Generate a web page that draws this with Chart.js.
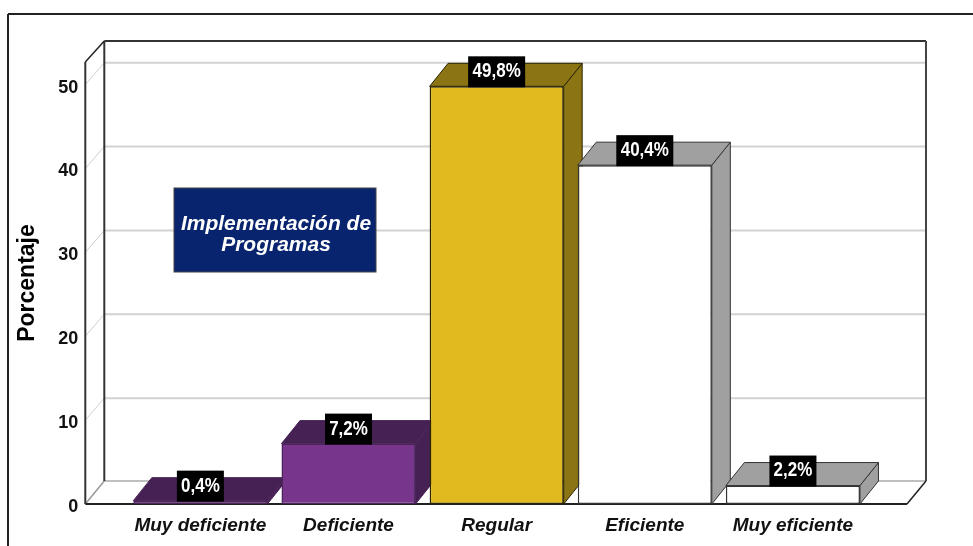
<!DOCTYPE html>
<html>
<head>
<meta charset="utf-8">
<script src="https://cdn.jsdelivr.net/npm/chart.js@4/dist/chart.umd.min.js"></script>
<style>html,body{margin:0;padding:0;background:#fff;overflow:hidden}canvas{display:block}</style>
</head>
<body>
<canvas id="c" width="973" height="546"></canvas>
<script>
const categories = ["Muy deficiente", "Deficiente", "Regular", "Eficiente", "Muy eficiente"];
const percentages = [0.4, 7.2, 49.8, 40.4, 2.2];
const frontColors = ["#77368B", "#77368B", "#E0BA1E", "#FFFFFF", "#FFFFFF"];
const shadeColors = ["#452154", "#452154", "#8B7414", "#A0A0A0", "#A0A0A0"];
const edgeColors = ["#4a2458", "#4a2458", "#2a2400", "#333333", "#333333"];
const yTicks = [0, 10, 20, 30, 40, 50];
const legendLines = ["Implementación de", "Programas"];
const axisTitle = "Porcentaje";

const BAR_DX = 18.5, BAR_DY = 23, WALL_DX = 19, WALL_DY = 22;
const FONT = '"Liberation Sans", Arial, sans-serif';

function line(ctx, x1, y1, x2, y2, color, w) {
  ctx.beginPath(); ctx.moveTo(x1, y1); ctx.lineTo(x2, y2);
  ctx.strokeStyle = color; ctx.lineWidth = w; ctx.stroke();
}
function poly(ctx, pts, fill, edge) {
  ctx.beginPath();
  pts.forEach((p, i) => i ? ctx.lineTo(p[0], p[1]) : ctx.moveTo(p[0], p[1]));
  ctx.closePath();
  ctx.fillStyle = fill; ctx.fill();
  ctx.strokeStyle = edge; ctx.lineWidth = 1; ctx.stroke();
}

const box3d = {
  id: "box3d",
  beforeDatasetsDraw(chart) {
    const ctx = chart.ctx, a = chart.chartArea, y = chart.scales.y;
    const L = a.left - 41, R = a.right + 59;
    ctx.save();
    // outer picture frame
    line(ctx, 8, 14, 973, 14, "#222", 2);
    line(ctx, 8, 14, 8, 546, "#222", 2);
    // grid on wall and side
    yTicks.slice(1).forEach(v => {
      const p = y.getPixelForValue(v);
      line(ctx, L, p, L + WALL_DX, p - WALL_DY, "#cfcfcf", 1);
      line(ctx, L + WALL_DX, p - WALL_DY, R, p - WALL_DY, "#d2d2d2", 2);
    });
    // floor
    line(ctx, L, a.bottom, L + WALL_DX, a.bottom - WALL_DY - 1, "#999", 1.5);
    line(ctx, L + WALL_DX, a.bottom - WALL_DY - 1, R, a.bottom - WALL_DY - 1, "#aaa", 1.5);
    line(ctx, R - WALL_DX, a.bottom, R, a.bottom - WALL_DY - 1, "#222", 1.5);
    line(ctx, L, a.bottom, R - WALL_DX, a.bottom, "#222", 2);
    // walls
    line(ctx, L, a.top, L, a.bottom, "#333", 2);
    line(ctx, L + WALL_DX, a.top - WALL_DY + 1, L + WALL_DX, a.bottom - WALL_DY - 1, "#333", 2);
    line(ctx, L, a.top, L + WALL_DX, a.top - WALL_DY + 1, "#222", 1.5);
    line(ctx, L + WALL_DX, a.top - WALL_DY + 1, R, a.top - WALL_DY + 1, "#333", 2);
    line(ctx, R, a.top - WALL_DY + 1, R, a.bottom - WALL_DY - 1, "#444", 2);
    // bar sides and tops
    const meta = chart.getDatasetMeta(0);
    meta.data.forEach((bar, i) => {
      const hw = bar.width / 2, l = bar.x - hw, r = bar.x + hw, t = bar.y, b = bar.base;
      poly(ctx, [[r, t], [r + BAR_DX, t - BAR_DY], [r + BAR_DX, b - BAR_DY], [r, b]], shadeColors[i], edgeColors[i]);
      poly(ctx, [[l, t], [l + BAR_DX, t - BAR_DY], [r + BAR_DX, t - BAR_DY], [r, t]], shadeColors[i], edgeColors[i]);
    });
    ctx.restore();
  },
  afterDatasetsDraw(chart) {
    const ctx = chart.ctx;
    ctx.save();
    // value labels
    chart.getDatasetMeta(0).data.forEach((bar, i) => {
      const text = percentages[i].toFixed(1).replace(".", ",") + "%";
      const w = text.length > 4 ? 57 : 47;
      ctx.fillStyle = "#000";
      ctx.fillRect(bar.x - w / 2, bar.y - 30, w, 31);
      ctx.save();
      ctx.translate(bar.x, bar.y - 14.5);
      ctx.scale(1, 1.15);
      ctx.font = "bold 17px " + FONT;
      ctx.fillStyle = "#fff";
      ctx.textAlign = "center";
      ctx.textBaseline = "middle";
      ctx.fillText(text, 0, 0);
      ctx.restore();
    });
    // legend box
    ctx.fillStyle = "#08246E";
    ctx.fillRect(174, 188, 202, 84);
    ctx.strokeStyle = "#444";
    ctx.lineWidth = 1;
    ctx.strokeRect(174, 188, 202, 84);
    ctx.font = "italic bold 21px " + FONT;
    ctx.fillStyle = "#fff";
    ctx.textAlign = "center";
    ctx.textBaseline = "middle";
    ctx.fillText(legendLines[0], 276, 224);
    ctx.fillText(legendLines[1], 276, 245);
    ctx.restore();
  }
};

new Chart(document.getElementById("c"), {
  type: "bar",
  data: {
    labels: categories,
    datasets: [{
      data: percentages,
      backgroundColor: frontColors,
      borderColor: edgeColors,
      borderWidth: 1.5,
      borderSkipped: false,
      barPercentage: 0.905,
      categoryPercentage: 1
    }]
  },
  plugins: [box3d],
  options: {
    responsive: false,
    animation: false,
    layout: { padding: { left: 10, right: 106, top: 62, bottom: 0 } },
    plugins: { legend: { display: false }, tooltip: { enabled: false } },
    scales: {
      x: {
        grid: { display: false, drawTicks: false },
        border: { display: false },
        ticks: {
          autoSkip: false, maxRotation: 0, padding: 10, color: "#111",
          font: { family: FONT, size: 19, weight: "bold", style: "italic" }
        },
        afterFit(s) { s.height = 42; }
      },
      y: {
        min: 0, max: 52.7,
        grid: { display: false, drawTicks: false },
        border: { display: false },
        title: {
          display: true, text: axisTitle, color: "#000", padding: 4,
          font: { family: FONT, size: 23, weight: "bold" }
        },
        ticks: {
          stepSize: 10, includeBounds: false, padding: 48, color: "#111",
          font: { family: FONT, size: 18, weight: "bold", lineHeight: "6px" },
          callback: v => ["", String(v)]
        },
        afterFit(s) { s.width = 116.3; s.paddingTop = 0; s.paddingBottom = 0; }
      }
    }
  }
});
</script>
</body>
</html>
